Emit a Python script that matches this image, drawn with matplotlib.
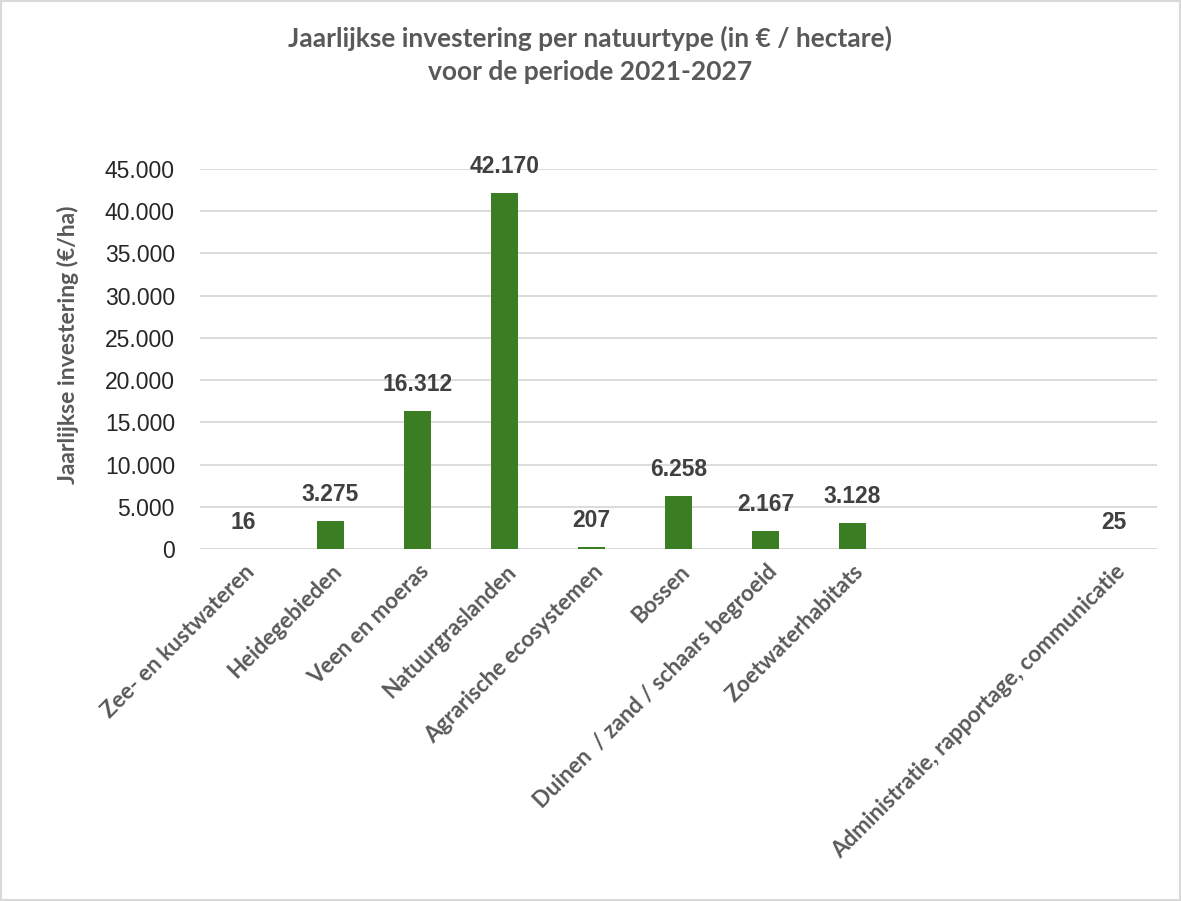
import numpy as np
import matplotlib
matplotlib.use("Agg")
import matplotlib.pyplot as plt
from matplotlib.patches import Rectangle

# categories (two empty slots in the original sheet)
categories = [
    "Zee- en kustwateren", "Heidegebieden", "Veen en moeras", "Natuurgraslanden",
    "Agrarische ecosystemen", "Bossen", "Duinen  / zand / schaars begroeid",
    "Zoetwaterhabitats", "", "", "Administratie, rapportage, communicatie",
]
values = [16, 3275, 16312, 42170, 207, 6258, 2167, 3128, np.nan, np.nan, 25]
value_labels = ["16", "3.275", "16.312", "42.170", "207", "6.258", "2.167", "3.128", "", "", "25"]
y_ticks = [0, 5000, 10000, 15000, 20000, 25000, 30000, 35000, 40000, 45000]
y_tick_labels = ["0", "5.000", "10.000", "15.000", "20.000", "25.000", "30.000", "35.000", "40.000", "45.000"]

green = "#3A7D22"
gray = "#595959"

fig = plt.figure(figsize=(11.81, 9.01), dpi=100)
fig.patches.append(Rectangle((0.001, 0.001), 0.998, 0.998, transform=fig.transFigure,
                             fill=False, edgecolor="#D9D9D9", linewidth=1.5))

ax = fig.add_axes([0.1693, 0.3907, 0.8104, 0.4217])
x = np.arange(len(categories))
ax.bar(x, np.nan_to_num(values), width=0.305, color=green, zorder=3)

for xi, v, lab in zip(x, values, value_labels):
    if lab:
        ax.annotate(lab, (xi, v), xytext=(0, 19), textcoords="offset points",
                    ha="center", va="center", fontsize=16.5, fontweight="bold",
                    color="#404040", family="Liberation Sans")

# category labels, rotated, drawn as annotations so they can be nudged
ax.set_xticks(x)
ax.set_xticklabels([])
for xi, cat in zip(x, categories):
    ax.annotate(cat, (xi, 0), xycoords=("data", "axes fraction"), xytext=(5.8, -14),
                textcoords="offset points", rotation=45, ha="right", va="center",
                rotation_mode="anchor", fontsize=16, fontweight="bold",
                color=gray, family="Lato", annotation_clip=False)

ax.set_xlim(-0.5, len(categories) - 0.5)
ax.set_ylim(0, 45000)
ax.set_yticks(y_ticks)
ax.set_yticklabels(y_tick_labels, fontsize=16.5, family="Liberation Sans", color="#262626")
ax.tick_params(axis="both", length=0)
ax.tick_params(axis="y", pad=18)
ax.grid(axis="y", color="#D9D9D9", linewidth=1.3, zorder=0)
for s in ax.spines.values():
    s.set_visible(False)

ax.set_ylabel("Jaarlijkse investering (€/ha)", fontsize=16.5, fontweight="bold",
              color=gray, family="Lato")
ax.yaxis.set_label_coords(-0.1265, 0.537)

fig.text(0.5, 0.958, "Jaarlijkse investering per natuurtype (in € / hectare)",
         ha="center", va="center", fontsize=19, fontweight="bold", color=gray, family="Lato")
fig.text(0.5, 0.92, "voor de periode 2021-2027",
         ha="center", va="center", fontsize=19, fontweight="bold", color=gray, family="Lato")

fig.savefig("out.png", dpi=100)
